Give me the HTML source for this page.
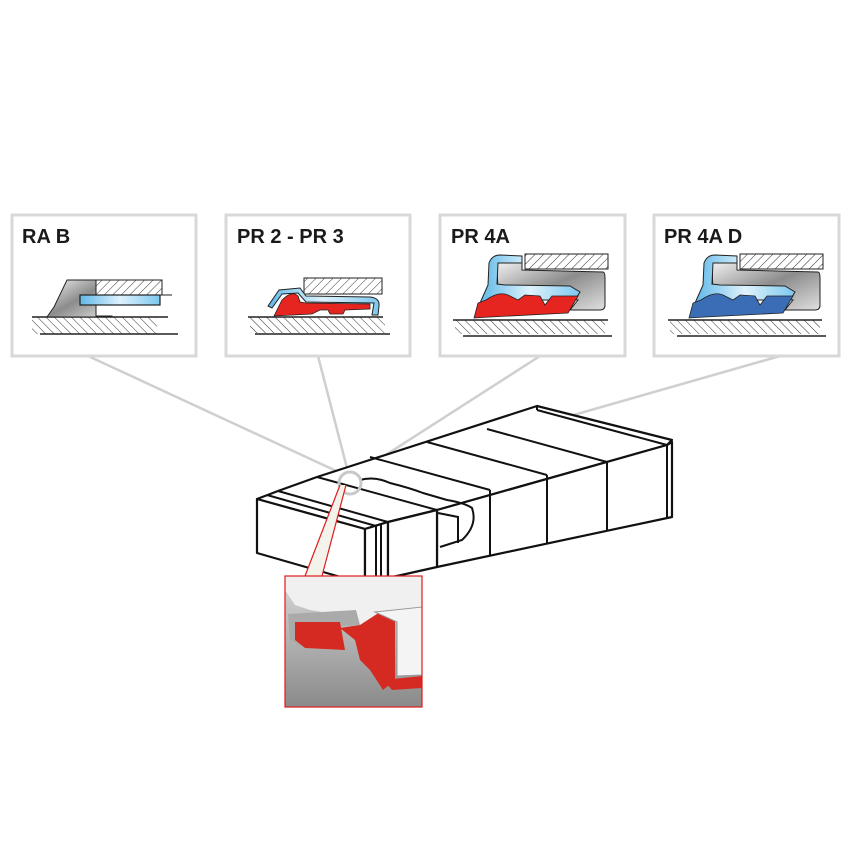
<!DOCTYPE html>
<html><head><meta charset="utf-8"><style>
html,body{margin:0;padding:0;background:#fff;}
svg{display:block}
text{font-family:"Liberation Sans",sans-serif;font-weight:bold;font-size:20px;fill:#1a1a1a}
</style></head><body>
<svg width="850" height="850" viewBox="0 0 850 850" xmlns="http://www.w3.org/2000/svg">
<defs>
<pattern id="h1" width="6" height="6" patternUnits="userSpaceOnUse" patternTransform="rotate(45)"><line x1="0" y1="0" x2="0" y2="6" stroke="#333" stroke-width="1"/></pattern>
<pattern id="h2" width="6" height="6" patternUnits="userSpaceOnUse" patternTransform="rotate(-45)"><line x1="0" y1="0" x2="0" y2="6" stroke="#333" stroke-width="1"/></pattern>
<linearGradient id="met" x1="0" y1="0" x2="1" y2="1"><stop offset="0" stop-color="#f2f2f2"/><stop offset="0.5" stop-color="#8c8c8c"/><stop offset="1" stop-color="#e0e0e0"/></linearGradient>
<linearGradient id="blu" x1="0" y1="0" x2="1" y2="0"><stop offset="0" stop-color="#5fb8e8"/><stop offset="0.5" stop-color="#dff2fc"/><stop offset="1" stop-color="#7cc8ef"/></linearGradient>
<linearGradient id="ins" x1="0" y1="0" x2="0" y2="1"><stop offset="0" stop-color="#d8d8d8"/><stop offset="1" stop-color="#8a8a8a"/></linearGradient>
</defs>

<g stroke="#cfcfcf" stroke-width="2.5" fill="none">
<line x1="88" y1="356" x2="345" y2="475"/>
<line x1="318" y1="356" x2="348" y2="472"/>
<line x1="540" y1="356" x2="356" y2="474"/>
<line x1="780" y1="356" x2="360" y2="476"/>
</g>

<g fill="#fff" stroke="#d8d8d8" stroke-width="3">
<rect x="12" y="215" width="184" height="141"/>
<rect x="226" y="215" width="184" height="141"/>
<rect x="440" y="215" width="185" height="141"/>
<rect x="654" y="215" width="185" height="141"/>
</g>
<text x="22" y="243">RA B</text>
<text x="237" y="243">PR 2 - PR 3</text>
<text x="451" y="243">PR 4A</text>
<text x="664" y="243">PR 4A D</text>

<!-- RA B -->
<rect x="32" y="317" width="125" height="17" fill="url(#h2)"/>
<line x1="32" y1="317" x2="168" y2="317" stroke="#222" stroke-width="1.5"/>
<line x1="40" y1="334" x2="178" y2="334" stroke="#222" stroke-width="1.5"/>
<rect x="96" y="280" width="66" height="15" fill="url(#h1)" stroke="#222" stroke-width="1"/>
<polygon points="67,280 96,280 96,316 112,316 112,317 47,317 54,307" fill="url(#met)" stroke="#222" stroke-width="1"/>
<rect x="80" y="295" width="80" height="10" fill="url(#blu)" stroke="#222" stroke-width="1.2"/>
<line x1="96" y1="295" x2="172" y2="295" stroke="#222"/>

<!-- PR2 -->
<rect x="250" y="317" width="135" height="16" fill="url(#h2)"/>
<line x1="248" y1="317" x2="383" y2="317" stroke="#222" stroke-width="1.5"/>
<line x1="255" y1="334" x2="390" y2="334" stroke="#222" stroke-width="1.5"/>
<rect x="304" y="278" width="78" height="16" fill="url(#h1)" stroke="#222" stroke-width="1"/>
<path d="M268,306 L279,290 L300,288 L306,296 L370,297 Q380,298 379,306 L378,315 L372,315 L374,303 L306,302 L298,293 L282,294 L272,308 Z" fill="url(#blu)" stroke="#222" stroke-width="1"/>
<path d="M274,316 L282,300 Q292,290 298,296 L300,302 L306,303 L370,304 L370,309 L345,310 L343,314 L330,314 L328,310 L320,310 L312,314 Z" fill="#e62521" stroke="#222" stroke-width="0.8"/>

<!-- PR4A -->
<rect x="455" y="320" width="150" height="14" fill="url(#h2)"/>
<line x1="453" y1="320" x2="608" y2="320" stroke="#222" stroke-width="1.5"/>
<line x1="463" y1="336" x2="612" y2="336" stroke="#222" stroke-width="1.5"/>
<rect x="525" y="254" width="83" height="15" fill="url(#h1)" stroke="#222" stroke-width="1"/>
<path d="M497,262 L522,262 L522,270 L603,272 Q605,272 605,278 L605,305 Q605,310 600,310 L570,310 L578,300 L498,295 Z" fill="url(#met)" stroke="#222" stroke-width="1"/>
<path d="M480,303 L488,285 L489,263 Q492,255 500,255 L522,256 L522,263 L498,263 L497,284 L505,285 L570,286 L580,292 L575,300 L490,300 Z" fill="url(#blu)" stroke="#222" stroke-width="1"/>
<path d="M474,318 L478,303 L486,300 Q500,290 510,296 L518,300 L525,295 L540,296 L545,305 L552,296 L578,296 L568,313 L490,317 Z" fill="#e62521" stroke="#222" stroke-width="0.8"/>

<!-- PR4AD -->
<rect x="670" y="320" width="150" height="14" fill="url(#h2)"/>
<line x1="668" y1="320" x2="822" y2="320" stroke="#222" stroke-width="1.5"/>
<line x1="677" y1="336" x2="826" y2="336" stroke="#222" stroke-width="1.5"/>
<rect x="740" y="254" width="83" height="15" fill="url(#h1)" stroke="#222" stroke-width="1"/>
<path d="M712,262 L737,262 L737,270 L818,272 Q820,272 820,278 L820,305 Q820,310 815,310 L785,310 L793,300 L713,295 Z" fill="url(#met)" stroke="#222" stroke-width="1"/>
<path d="M695,303 L703,285 L704,263 Q707,255 715,255 L737,256 L737,263 L713,263 L712,284 L720,285 L785,286 L795,292 L790,300 L705,300 Z" fill="url(#blu)" stroke="#222" stroke-width="1"/>
<path d="M689,318 L693,303 L701,300 Q715,290 725,296 L733,300 L740,295 L755,296 L760,305 L767,296 L793,296 L783,313 L705,317 Z" fill="#3a6db5" stroke="#222" stroke-width="0.8"/>

<!-- duct box -->
<g fill="#fff" stroke="#111" stroke-width="2.2" stroke-linejoin="round">
<polygon points="257,499 278,491 317,477 537,406 672,440 667,445 437,510 388,522 365,529"/>
<polygon points="437,510 667,445 672,442 672,517 437,567"/>
<polygon points="257,499 365,529 365,584 257,553"/>
<polygon points="365,529 388,522 388,578 365,584"/>
<polygon points="388,522 437,510 437,567 388,578"/>
</g>
<g stroke="#111" stroke-width="2" fill="none">
<line x1="267" y1="495" x2="376" y2="526"/>
<line x1="278" y1="491" x2="388" y2="522"/>
<line x1="376" y1="526" x2="376" y2="580"/>
<line x1="381" y1="524" x2="381" y2="579"/>
<line x1="317" y1="477" x2="437" y2="510"/>
<line x1="490" y1="490" x2="490" y2="555"/>
<line x1="547" y1="475" x2="547" y2="543"/>
<line x1="607" y1="462" x2="607" y2="530"/>
<line x1="667" y1="445" x2="667" y2="517"/>
<line x1="537" y1="406" x2="537" y2="410"/>
<line x1="537" y1="410" x2="667" y2="445"/>
<line x1="370" y1="457" x2="490" y2="490"/>
<line x1="427" y1="442" x2="547" y2="475"/>
<line x1="487" y1="429" x2="607" y2="462"/>
<path d="M360,480 Q375,476 390,483 Q410,488 423,493 Q440,498 447,500 Q465,503 472,508 Q478,525 462,540 L440,547"/>
<path d="M438,513 L458,517 L458,543"/>
</g>
<circle cx="350" cy="483" r="11" fill="none" stroke="#c8c8c8" stroke-width="3"/>
<polygon points="340,485 346,485 322,576 305,576" fill="#f3f3ec"/>
<line x1="340" y1="485" x2="305" y2="576" stroke="#e01b1b" stroke-width="1.2"/>
<line x1="346" y1="485" x2="322" y2="576" stroke="#e01b1b" stroke-width="1.2"/>

<!-- inset -->
<rect x="285" y="576" width="137" height="131" fill="url(#ins)"/>
<polygon points="285,576 422,576 422,612 400,615 360,625 340,615 310,610 295,605 285,590" fill="#f0f0f0"/>
<polygon points="288,614 356,610 360,625 340,626 340,650 300,646 290,640" fill="#aaa"/>
<polygon points="295,622 340,622 345,650 305,648 295,640" fill="#d42a22"/>
<polygon points="340,628 360,625 380,612 395,620 395,680 383,690 370,670 360,660 355,640" fill="#d42a22"/>
<polygon points="375,612 422,607 422,675 397,676 397,622" fill="#f4f4f4" stroke="#999" stroke-width="1"/>
<polygon points="383,680 422,676 422,688 392,690" fill="#d42a22"/>
<rect x="285" y="576" width="137" height="131" fill="none" stroke="#e01b1b" stroke-width="1.2"/>
</svg>
</body></html>
